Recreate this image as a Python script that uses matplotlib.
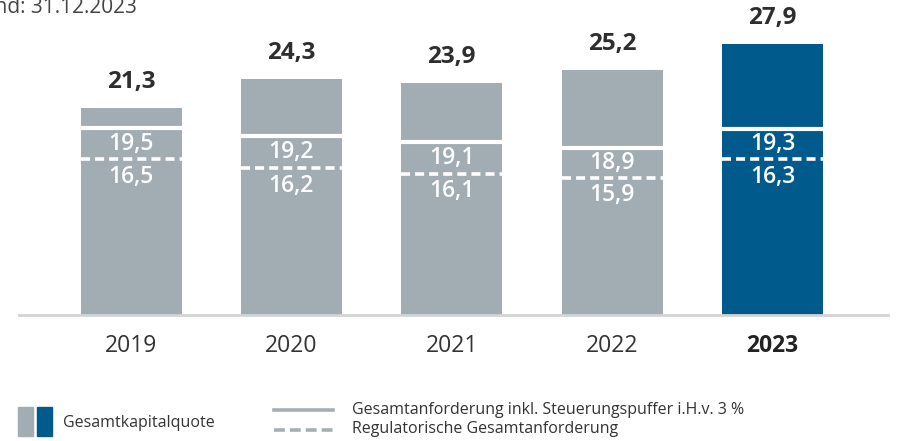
import matplotlib
matplotlib.use("Agg")
import matplotlib.pyplot as plt
from matplotlib.patches import Rectangle

plt.rcParams['font.family'] = ['Open Sans', 'DejaVu Sans']

# data
years = ['2019', '2020', '2021', '2022', '2023']
total_ratio = [21.3, 24.3, 23.9, 25.2, 27.9]          # Gesamtkapitalquote
req_buffer = [19.5, 19.2, 19.1, 18.9, 19.3]           # inkl. Steuerungspuffer (label)
req_reg = [16.5, 16.2, 16.1, 15.9, 16.3]              # regulatorisch (label)
# where the lines sit in the picture (not quite to scale there)
req_buffer_pos = [19.2, 18.4, 17.8, 17.2, 19.1]
req_reg_pos = [16.0, 15.1, 14.5, 14.1, 16.0]

GRAY = '#a1acb3'
BLUE = '#005a8c'
DARK = '#2e2e2e'
W, H = 898, 441

fig = plt.figure(figsize=(W / 100, H / 100), dpi=100)

# main axes: baseline at y=315 px, from x=19 to 888 px
ax = fig.add_axes([19 / W, (H - 315) / H, (888 - 19) / W, 315 / H])
step = 160.375
ax.set_xlim((19 - 131) / step, (888 - 131) / step)
ax.set_ylim(0, 315 / 9.72)
x = list(range(len(years)))
colors = [GRAY] * (len(years) - 1) + [BLUE]
bw = 101 / step
ax.bar(x, total_ratio, width=bw, color=colors, zorder=2)

for i in x:
    ax.hlines(req_buffer_pos[i], i - bw / 2, i + bw / 2, color='white', lw=3, zorder=3)
    ax.hlines(req_reg_pos[i], i - bw / 2, i + bw / 2, color='white', lw=2.6,
              linestyles=(0, (2.5, 1.4)), zorder=3)
    ax.annotate(f'{total_ratio[i]:.1f}'.replace('.', ','), (i, total_ratio[i]),
                xytext=(0, 18.5), textcoords='offset points', ha='center', va='center',
                fontsize=17.5, fontweight='bold', color=DARK)
    mid = (req_buffer_pos[i] + req_reg_pos[i]) / 2
    ax.text(i, mid, f'{req_buffer[i]:.1f}'.replace('.', ','), ha='center', va='center',
            fontsize=16.5, fontweight='semibold', color='white', zorder=4)
    ax.annotate(f'{req_reg[i]:.1f}'.replace('.', ','), (i, req_reg_pos[i]),
                xytext=(0, -12.5), textcoords='offset points', ha='center', va='center',
                fontsize=16.5, fontweight='semibold', color='white', zorder=4)

for s in ['top', 'right', 'left']:
    ax.spines[s].set_visible(False)
ax.spines['bottom'].set_color('#d2d4d6')
ax.spines['bottom'].set_linewidth(2)
ax.set_yticks([])
ax.set_xticks(x)
ax.set_xticklabels(years, fontsize=16.5, color='#333333')
ax.get_xticklabels()[-1].set_fontweight('bold')
ax.get_xticklabels()[-1].set_color('#222222')
ax.tick_params(axis='x', length=0, pad=14)

fig.text(137 / W, 1 - 13 / H, 'Stand: 31.12.2023', ha='right', va='baseline',
         fontsize=15, color='#444444')

# legend drawn in pixel space
lg = fig.add_axes([0, 0, 1, 1])
lg.set_xlim(0, W)
lg.set_ylim(H, 0)
lg.axis('off')
lg.add_patch(Rectangle((18, 407), 15, 29, color=GRAY))
lg.add_patch(Rectangle((37, 407), 15, 29, color=BLUE))
lg.text(63, 423, 'Gesamtkapitalquote', ha='left', va='center', fontsize=11.5, color='#333333')
lg.plot([274, 333], [410, 410], color='#a6aeb3', lw=2.6)
lg.plot([274, 333], [429.5, 429.5], color='#a6aeb3', lw=2.6, dashes=(3, 1.4))
lg.text(352, 410, 'Gesamtanforderung inkl. Steuerungspuffer i.H.v. 3 %', ha='left',
        va='center', fontsize=11.5, color='#333333')
lg.text(352, 429, 'Regulatorische Gesamtanforderung', ha='left', va='center',
        fontsize=11.5, color='#333333')

fig.savefig('out.png', dpi=100)
